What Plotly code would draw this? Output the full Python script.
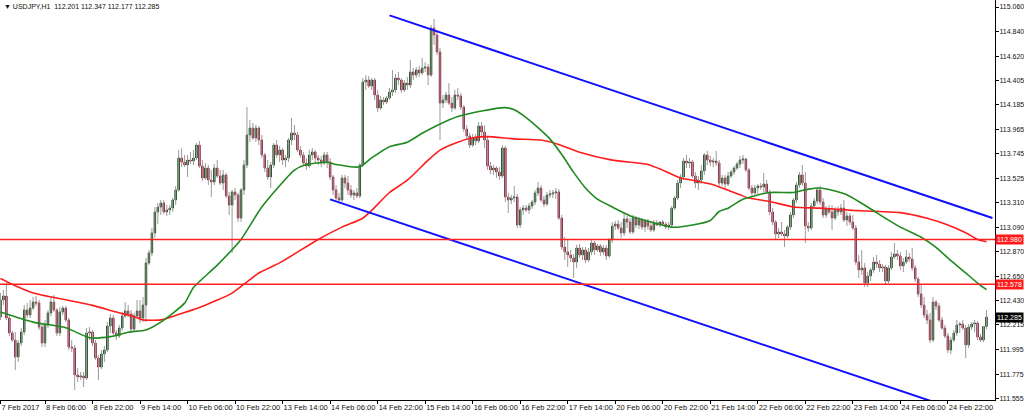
import pandas as pd
import plotly.graph_objects as go

# ---------------- data ----------------
# H1 bar times (weekends skipped); the last two slots are the empty chart shift
_hours = pd.date_range("2017-02-07 15:00", "2017-02-27 13:00", freq="h")
bar_times = [t.strftime("%Y-%m-%d %H:%M") for t in _hours if t.weekday() < 5]

open_ = [
    112.286, 112.438, 112.474, 112.277, 112.143, 112.080, 111.928, 112.053, 112.152, 112.349,
    112.304, 112.366, 112.420, 112.411, 112.196, 112.053, 112.214, 112.322, 112.420, 112.349,
    112.143, 112.331, 112.366, 112.259, 112.017, 112.008, 111.767, 111.749, 111.758, 111.740,
    112.143, 112.152, 112.053, 111.919, 111.838, 111.955, 111.991, 112.205, 112.277, 112.143,
    112.116, 112.187, 112.295, 112.340, 112.313, 112.178, 112.295, 112.340, 112.277, 112.393,
    112.769, 112.859, 113.038, 113.226, 113.270, 113.306, 113.226, 113.244, 113.261, 113.333,
    113.423, 113.709, 113.673, 113.646, 113.691, 113.682, 113.709, 113.825, 113.637, 113.530,
    113.619, 113.512, 113.494, 113.619, 113.548, 113.485, 113.557, 113.369, 113.288, 113.405,
    113.378, 113.172, 113.423, 113.646, 113.915, 113.977, 113.888, 113.977, 113.870, 113.736,
    113.619, 113.539, 113.646, 113.825, 113.736, 113.781, 113.691, 113.709, 113.870, 113.933,
    113.915, 113.781, 113.736, 113.664, 113.637, 113.736, 113.763, 113.709, 113.691, 113.664,
    113.736, 113.673, 113.539, 113.423, 113.351, 113.333, 113.530, 113.485, 113.423, 113.378,
    113.396, 113.369, 113.646, 114.389, 114.407, 114.353, 114.407, 114.273, 114.156, 114.228,
    114.210, 114.246, 114.300, 114.318, 114.425, 114.407, 114.318, 114.380, 114.362, 114.479,
    114.452, 114.497, 114.470, 114.514, 114.523, 114.452, 114.872, 114.810, 114.658, 114.201,
    114.228, 114.273, 114.201, 114.156, 114.273, 114.264, 114.165, 113.968, 113.906, 113.825,
    113.888, 113.861, 113.995, 113.942, 113.870, 113.637, 113.602, 113.619, 113.584, 113.548,
    113.798, 113.360, 113.333, 113.351, 113.360, 113.109, 113.244, 113.261, 113.244, 113.279,
    113.315, 113.396, 113.440, 113.333, 113.297, 113.378, 113.387, 113.396, 113.405, 113.172,
    112.912, 112.868, 112.841, 112.814, 112.778, 112.903, 112.841, 112.886, 112.796, 112.868,
    112.948, 112.886, 112.921, 112.868, 112.903, 112.832, 112.975, 113.100, 113.118, 113.082,
    113.038, 113.163, 113.136, 113.047, 113.172, 113.109, 113.154, 113.091, 113.145, 113.100,
    113.065, 113.127, 113.109, 113.136, 113.118, 113.091, 113.109, 113.261, 113.351, 113.485,
    113.539, 113.682, 113.664, 113.673, 113.548, 113.485, 113.512, 113.593, 113.736, 113.691,
    113.673, 113.682, 113.664, 113.485, 113.530, 113.476, 113.548, 113.584, 113.619, 113.655,
    113.691, 113.700, 113.602, 113.440, 113.396, 113.440, 113.458, 113.449, 113.476, 113.405,
    113.226, 113.136, 113.029, 113.047, 113.029, 113.011, 113.091, 113.199, 113.333, 113.467,
    113.557, 113.485, 113.100, 113.082, 113.279, 113.324, 113.423, 113.315, 113.199, 113.253,
    113.226, 113.172, 113.244, 113.226, 113.261, 113.154, 113.190, 113.136, 113.082, 112.778,
    112.707, 112.725, 112.590, 112.653, 112.707, 112.778, 112.760, 112.725, 112.734, 112.608,
    112.725, 112.823, 112.850, 112.832, 112.743, 112.778, 112.823, 112.805, 112.725, 112.626,
    112.492, 112.393, 112.304, 112.259, 112.080, 112.420, 112.384, 112.259, 112.187, 112.116,
    111.991, 112.080, 112.143, 112.214, 112.223, 112.187, 112.036, 112.196, 112.223, 112.232,
    112.107, 112.080, 112.201,
]

high = [
    112.501, 112.528, 112.590, 112.304, 112.161, 112.152, 112.080, 112.187, 112.393, 112.411,
    112.438, 112.465, 112.474, 112.438, 112.214, 112.259, 112.349, 112.465, 112.483, 112.366,
    112.375, 112.384, 112.384, 112.277, 112.080, 112.035, 111.829, 111.794, 111.794, 112.187,
    112.196, 112.170, 112.080, 111.946, 111.991, 112.026, 112.241, 112.313, 112.304, 112.170,
    112.214, 112.331, 112.420, 112.393, 112.349, 112.322, 112.438, 112.438, 112.465, 112.814,
    112.886, 113.082, 113.270, 113.306, 113.333, 113.333, 113.288, 113.288, 113.351, 113.458,
    113.781, 113.798, 113.736, 113.736, 113.763, 113.781, 113.843, 113.861, 113.691, 113.664,
    113.646, 113.602, 113.655, 113.691, 113.602, 113.602, 113.575, 113.405, 113.423, 113.440,
    113.396, 113.440, 113.691, 114.165, 114.049, 114.022, 114.004, 113.995, 113.915, 113.754,
    113.691, 113.673, 113.843, 113.870, 113.816, 113.798, 113.736, 113.888, 114.067, 114.004,
    113.942, 113.816, 113.763, 113.709, 113.781, 113.798, 113.781, 113.736, 113.727, 113.763,
    113.763, 113.709, 113.557, 113.467, 113.396, 113.557, 113.557, 113.548, 113.467, 113.423,
    113.440, 113.664, 114.425, 114.452, 114.443, 114.425, 114.425, 114.318, 114.264, 114.255,
    114.264, 114.335, 114.497, 114.461, 114.479, 114.425, 114.407, 114.434, 114.586, 114.515,
    114.523, 114.532, 114.604, 114.568, 114.550, 114.899, 114.953, 114.855, 114.693, 114.273,
    114.300, 114.380, 114.255, 114.318, 114.335, 114.291, 114.183, 114.004, 113.933, 113.924,
    113.924, 114.031, 114.031, 114.004, 113.897, 113.673, 113.646, 113.637, 113.628, 113.825,
    113.816, 113.396, 113.378, 113.458, 113.387, 113.270, 113.288, 113.288, 113.306, 113.333,
    113.423, 113.494, 113.467, 113.369, 113.405, 113.423, 113.423, 113.440, 113.431, 113.199,
    113.002, 112.975, 112.886, 112.850, 112.931, 112.939, 112.912, 112.912, 112.903, 112.975,
    112.966, 112.939, 112.939, 112.931, 112.931, 112.993, 113.136, 113.145, 113.154, 113.136,
    113.217, 113.190, 113.172, 113.199, 113.190, 113.181, 113.172, 113.163, 113.163, 113.136,
    113.154, 113.154, 113.145, 113.154, 113.136, 113.136, 113.279, 113.369, 113.512, 113.566,
    113.709, 113.736, 113.709, 113.691, 113.584, 113.548, 113.646, 113.754, 113.772, 113.727,
    113.709, 113.772, 113.691, 113.557, 113.557, 113.584, 113.602, 113.637, 113.673, 113.727,
    113.736, 113.709, 113.619, 113.467, 113.467, 113.476, 113.485, 113.575, 113.512, 113.423,
    113.261, 113.154, 113.082, 113.136, 113.065, 113.109, 113.226, 113.351, 113.494, 113.584,
    113.646, 113.584, 113.136, 113.306, 113.351, 113.449, 113.458, 113.351, 113.279, 113.288,
    113.288, 113.270, 113.279, 113.297, 113.333, 113.226, 113.217, 113.199, 113.109, 112.841,
    112.886, 112.769, 112.689, 112.725, 112.823, 112.841, 112.796, 112.760, 112.752, 112.752,
    112.868, 112.948, 112.886, 112.868, 112.814, 112.886, 112.859, 112.903, 112.752, 112.644,
    112.573, 112.465, 112.349, 112.322, 112.465, 112.438, 112.411, 112.286, 112.214, 112.143,
    112.107, 112.170, 112.259, 112.241, 112.259, 112.214, 112.223, 112.241, 112.259, 112.250,
    112.134, 112.205, 112.347,
]

low = [
    112.259, 112.393, 112.259, 112.116, 112.062, 111.812, 111.883, 112.026, 112.125, 112.277,
    112.277, 112.349, 112.384, 112.170, 112.017, 112.017, 112.187, 112.295, 112.331, 112.116,
    112.116, 112.304, 112.241, 111.991, 111.973, 111.633, 111.704, 111.722, 111.659, 111.722,
    112.080, 112.026, 111.901, 111.722, 111.820, 111.883, 111.973, 112.143, 112.116, 112.080,
    112.098, 112.161, 112.277, 112.286, 112.152, 112.161, 112.277, 112.232, 112.241, 112.241,
    112.752, 112.832, 112.993, 113.118, 113.199, 113.208, 113.190, 113.199, 113.226, 113.288,
    113.405, 113.628, 113.628, 113.539, 113.655, 113.646, 113.691, 113.619, 113.503, 113.512,
    113.467, 113.360, 113.467, 113.530, 113.467, 113.423, 113.351, 113.199, 112.859, 113.333,
    113.136, 113.136, 113.378, 113.619, 113.852, 113.870, 113.852, 113.825, 113.709, 113.584,
    113.512, 113.440, 113.619, 113.709, 113.673, 113.646, 113.628, 113.673, 113.825, 113.870,
    113.763, 113.709, 113.646, 113.602, 113.619, 113.691, 113.664, 113.646, 113.628, 113.646,
    113.619, 113.512, 113.378, 113.315, 113.306, 113.315, 113.440, 113.378, 113.351, 113.333,
    113.351, 113.351, 113.628, 114.318, 114.335, 114.318, 114.228, 114.121, 114.139, 114.183,
    114.192, 114.228, 114.264, 114.291, 114.362, 114.291, 114.300, 114.318, 114.335, 114.407,
    114.425, 114.434, 114.452, 114.479, 114.362, 114.434, 114.721, 114.631, 113.870, 114.156,
    114.201, 114.183, 114.121, 114.139, 114.228, 114.139, 113.942, 113.870, 113.798, 113.807,
    113.825, 113.843, 113.888, 113.798, 113.602, 113.566, 113.557, 113.530, 113.512, 113.530,
    113.315, 113.217, 113.297, 113.315, 113.082, 113.082, 113.199, 113.226, 113.208, 113.253,
    113.288, 113.369, 113.315, 113.270, 113.279, 113.351, 113.351, 113.342, 113.154, 112.886,
    112.796, 112.734, 112.778, 112.635, 112.725, 112.814, 112.796, 112.769, 112.778, 112.841,
    112.841, 112.868, 112.832, 112.841, 112.796, 112.814, 112.948, 113.065, 113.065, 112.993,
    113.011, 113.082, 113.029, 113.029, 113.082, 113.073, 113.065, 113.047, 113.065, 113.047,
    113.047, 113.100, 113.091, 113.100, 113.073, 113.065, 113.082, 113.244, 113.333, 113.440,
    113.512, 113.619, 113.619, 113.530, 113.440, 113.423, 113.476, 113.557, 113.646, 113.637,
    113.628, 113.637, 113.449, 113.458, 113.440, 113.458, 113.530, 113.557, 113.602, 113.619,
    113.655, 113.584, 113.423, 113.369, 113.378, 113.387, 113.423, 113.396, 113.387, 113.199,
    113.109, 112.975, 112.993, 113.011, 112.912, 112.993, 113.065, 113.172, 113.306, 113.440,
    113.458, 112.948, 113.047, 113.065, 113.261, 113.297, 113.288, 113.172, 113.172, 113.208,
    113.065, 113.154, 113.190, 113.199, 113.136, 113.100, 113.109, 113.065, 112.752, 112.635,
    112.662, 112.554, 112.554, 112.608, 112.680, 112.725, 112.689, 112.689, 112.582, 112.590,
    112.707, 112.805, 112.796, 112.707, 112.689, 112.760, 112.778, 112.698, 112.599, 112.465,
    112.366, 112.277, 112.223, 112.053, 112.062, 112.349, 112.241, 112.170, 112.098, 111.964,
    111.955, 112.062, 112.116, 112.143, 112.170, 111.919, 112.008, 112.170, 112.152, 112.080,
    112.062, 112.062, 112.177,
]

close = [
    112.438, 112.474, 112.277, 112.143, 112.080, 111.928, 112.053, 112.152, 112.349, 112.304,
    112.366, 112.420, 112.411, 112.196, 112.053, 112.214, 112.322, 112.420, 112.349, 112.143,
    112.331, 112.366, 112.259, 112.017, 112.008, 111.767, 111.749, 111.758, 111.740, 112.143,
    112.152, 112.053, 111.919, 111.838, 111.955, 111.991, 112.205, 112.277, 112.143, 112.116,
    112.187, 112.295, 112.340, 112.313, 112.178, 112.295, 112.340, 112.277, 112.393, 112.769,
    112.859, 113.038, 113.226, 113.270, 113.306, 113.226, 113.244, 113.261, 113.333, 113.423,
    113.709, 113.673, 113.646, 113.691, 113.682, 113.709, 113.825, 113.637, 113.530, 113.619,
    113.512, 113.494, 113.619, 113.548, 113.485, 113.557, 113.369, 113.288, 113.405, 113.378,
    113.172, 113.423, 113.646, 113.915, 113.977, 113.888, 113.977, 113.870, 113.736, 113.619,
    113.539, 113.646, 113.825, 113.736, 113.781, 113.691, 113.709, 113.870, 113.933, 113.915,
    113.781, 113.736, 113.664, 113.637, 113.736, 113.763, 113.709, 113.691, 113.664, 113.736,
    113.673, 113.539, 113.423, 113.351, 113.333, 113.530, 113.485, 113.423, 113.378, 113.396,
    113.369, 113.646, 114.389, 114.407, 114.353, 114.407, 114.273, 114.156, 114.228, 114.210,
    114.246, 114.300, 114.318, 114.425, 114.407, 114.318, 114.380, 114.362, 114.479, 114.452,
    114.497, 114.470, 114.514, 114.523, 114.452, 114.872, 114.810, 114.658, 114.201, 114.228,
    114.273, 114.201, 114.156, 114.273, 114.264, 114.165, 113.968, 113.906, 113.825, 113.888,
    113.861, 113.995, 113.942, 113.870, 113.637, 113.602, 113.619, 113.584, 113.548, 113.798,
    113.360, 113.333, 113.351, 113.360, 113.109, 113.244, 113.261, 113.244, 113.279, 113.315,
    113.396, 113.440, 113.333, 113.297, 113.378, 113.387, 113.396, 113.405, 113.172, 112.912,
    112.868, 112.841, 112.814, 112.778, 112.903, 112.841, 112.886, 112.796, 112.868, 112.948,
    112.886, 112.921, 112.868, 112.903, 112.832, 112.975, 113.100, 113.118, 113.082, 113.038,
    113.163, 113.136, 113.047, 113.172, 113.109, 113.154, 113.091, 113.145, 113.100, 113.065,
    113.127, 113.109, 113.136, 113.118, 113.091, 113.109, 113.261, 113.351, 113.485, 113.539,
    113.682, 113.664, 113.673, 113.548, 113.485, 113.512, 113.593, 113.736, 113.691, 113.673,
    113.682, 113.664, 113.485, 113.530, 113.476, 113.548, 113.584, 113.619, 113.655, 113.691,
    113.700, 113.602, 113.440, 113.396, 113.440, 113.458, 113.449, 113.476, 113.405, 113.226,
    113.136, 113.029, 113.047, 113.029, 113.011, 113.091, 113.199, 113.333, 113.467, 113.557,
    113.485, 113.100, 113.082, 113.279, 113.324, 113.423, 113.315, 113.199, 113.253, 113.226,
    113.172, 113.244, 113.226, 113.261, 113.154, 113.190, 113.136, 113.082, 112.778, 112.707,
    112.725, 112.590, 112.653, 112.707, 112.778, 112.760, 112.725, 112.734, 112.608, 112.725,
    112.823, 112.850, 112.832, 112.743, 112.778, 112.823, 112.805, 112.725, 112.626, 112.492,
    112.393, 112.304, 112.259, 112.080, 112.420, 112.384, 112.259, 112.187, 112.116, 111.991,
    112.080, 112.143, 112.214, 112.223, 112.187, 112.036, 112.196, 112.223, 112.232, 112.107,
    112.080, 112.201, 112.285,
]

# moving averages (bar index -> value)
ma_fast_bars = [0, 11, 22, 30, 37, 43, 49, 54, 62, 65, 73, 81, 88, 99, 103, 110, 113, 121, 125, 131,
                137, 142, 147, 154, 162, 170, 173, 177, 181, 185, 189, 193, 197, 201, 206, 213, 220,
                226, 233, 239, 242, 245, 250, 259, 267, 272, 276, 280, 285, 292, 298, 303, 310, 315,
                320, 325, 329, 332]
ma_fast_vals = [112.33, 112.24, 112.19, 112.10, 112.11, 112.15, 112.17, 112.24, 112.41, 112.55,
                112.75, 112.98, 113.27, 113.60, 113.65, 113.67, 113.65, 113.63, 113.71, 113.81,
                113.85, 113.93, 114.00, 114.08, 114.13, 114.16, 114.14, 114.07, 113.98, 113.88,
                113.74, 113.58, 113.44, 113.34, 113.27, 113.18, 113.13, 113.09, 113.11, 113.15,
                113.23, 113.26, 113.34, 113.40, 113.40, 113.43, 113.44, 113.42, 113.38, 113.27,
                113.17, 113.09, 113.00, 112.91, 112.79, 112.68, 112.59, 112.53]
ma_slow_bars = [0, 3, 11, 22, 31, 39, 45, 48, 54, 59, 67, 78, 83, 87, 94, 107, 115, 122, 125, 131,
                137, 144, 148, 154, 159, 164, 173, 182, 188, 195, 206, 218, 223, 229, 233, 240, 245,
                249, 252, 259, 267, 276, 287, 296, 303, 312, 319, 325, 329, 332]
ma_slow_vals = [112.63, 112.59, 112.50, 112.44, 112.39, 112.33, 112.29, 112.26, 112.26, 112.30,
                112.37, 112.50, 112.60, 112.68, 112.77, 112.98, 113.09, 113.17, 113.24, 113.40,
                113.51, 113.69, 113.78, 113.85, 113.89, 113.90, 113.88, 113.87, 113.83, 113.76,
                113.69, 113.65, 113.60, 113.53, 113.51, 113.47, 113.42, 113.38, 113.35, 113.32,
                113.27, 113.26, 113.24, 113.23, 113.22, 113.17, 113.11, 113.04, 112.98, 112.96]

# channel trendlines (time, price) anchors
channel_upper_t = ["2017-02-15 02:00", "2017-02-27 13:00"]
channel_upper_p = [114.985, 113.172]
channel_lower_t = ["2017-02-14 06:00", "2017-02-24 19:00"]
channel_lower_p = [113.339, 111.510]

# horizontal levels
level_prices = [112.980, 112.578]
current_price = 112.285

# axis ticks
x_tick_times = ["2017-02-07 15:00", "2017-02-08 06:00", "2017-02-08 22:00", "2017-02-09 14:00",
                "2017-02-10 06:00", "2017-02-10 22:00", "2017-02-13 14:00", "2017-02-14 06:00",
                "2017-02-14 22:00", "2017-02-15 14:00", "2017-02-16 06:00", "2017-02-16 22:00",
                "2017-02-17 14:00", "2017-02-20 06:00", "2017-02-20 22:00", "2017-02-21 14:00",
                "2017-02-22 06:00", "2017-02-22 22:00", "2017-02-23 14:00", "2017-02-24 06:00",
                "2017-02-24 22:00"]
x_tick_text = ["7 Feb 2017", "8 Feb 06:00", "8 Feb 22:00", "9 Feb 14:00", "10 Feb 06:00",
               "10 Feb 22:00", "13 Feb 14:00", "14 Feb 06:00", "14 Feb 22:00", "15 Feb 14:00",
               "16 Feb 06:00", "16 Feb 22:00", "17 Feb 14:00", "20 Feb 06:00", "20 Feb 22:00",
               "21 Feb 14:00", "22 Feb 06:00", "22 Feb 22:00", "23 Feb 14:00", "24 Feb 06:00",
               "24 Feb 22:00"]
y_tick_vals = [111.555, 111.775, 111.995, 112.215, 112.430, 112.650, 112.870, 113.090, 113.310,
               113.525, 113.745, 113.965, 114.185, 114.405, 114.620, 114.840, 115.060]

title_text = "▼ USDJPY,H1  112.201 112.347 112.177 112.285"

# ---------------- figure ----------------
FONT = "Liberation Sans, Arial, sans-serif"
WICK = "#9a9a9a"
BULL = "#0f420f"
BEAR = "#94122f"

n = len(close)
xs = bar_times[:n]
body_hi = [max(o, c) for o, c in zip(open_, close)]
body_lo = [min(o, c) for o, c in zip(open_, close)]

fig = go.Figure()

# wicks
fig.add_trace(go.Ohlc(
    x=xs, open=open_, high=high, low=low, close=close,
    tickwidth=0,
    increasing=dict(line=dict(color=WICK, width=1)),
    decreasing=dict(line=dict(color=WICK, width=1)),
    hoverinfo="skip", showlegend=False,
))
# bodies
fig.add_trace(go.Candlestick(
    x=xs, open=open_, high=body_hi, low=body_lo, close=close,
    whiskerwidth=0,
    increasing=dict(line=dict(color=BULL, width=1), fillcolor=BULL),
    decreasing=dict(line=dict(color=BEAR, width=1), fillcolor=BEAR),
    showlegend=False,
))

# moving averages
fig.add_trace(go.Scatter(
    x=[bar_times[i] for i in ma_slow_bars], y=ma_slow_vals, mode="lines",
    line=dict(color="#ff1c1c", width=1.6, shape="spline", smoothing=0.6),
    showlegend=False, hoverinfo="skip"))
fig.add_trace(go.Scatter(
    x=[bar_times[i] for i in ma_fast_bars], y=ma_fast_vals, mode="lines",
    line=dict(color="#1f8a1f", width=1.6, shape="spline", smoothing=0.6),
    showlegend=False, hoverinfo="skip"))

# channel lines
for tt, pp in ((channel_upper_t, channel_upper_p), (channel_lower_t, channel_lower_p)):
    fig.add_trace(go.Scatter(x=tt, y=pp, mode="lines",
                             line=dict(color="#1010ff", width=2),
                             showlegend=False, hoverinfo="skip"))

shapes = []
annotations = []
for lv in level_prices:
    shapes.append(dict(type="line", xref="paper", x0=0, x1=1, yref="y", y0=lv, y1=lv,
                       line=dict(color="#ff2020", width=1.5), layer="above"))
    annotations.append(dict(x=1, xref="paper", xanchor="left", xshift=0, y=lv, yref="y",
                            yanchor="middle", text=f"{lv:.3f}", showarrow=False,
                            bgcolor="#ff1a1a", borderpad=1,
                            font=dict(family=FONT, size=7, color="white")))
annotations.append(dict(x=1, xref="paper", xanchor="left", xshift=0, y=current_price, yref="y",
                        yanchor="middle", text=f"{current_price:.3f}", showarrow=False,
                        bgcolor="#000000", borderpad=1,
                        font=dict(family=FONT, size=7, color="white")))
annotations.append(dict(x=0, xref="paper", xanchor="left", xshift=2, y=1, yref="paper",
                        yanchor="top", yshift=-1, text=title_text, showarrow=False,
                        font=dict(family=FONT, size=7, color="#111111")))

fig.update_layout(
    width=1024, height=414,
    margin=dict(l=0, r=29, t=0, b=14),
    paper_bgcolor="white", plot_bgcolor="white",
    showlegend=False,
    shapes=shapes, annotations=annotations,
    font=dict(family=FONT, size=7.5, color="#111111"),
    xaxis=dict(
        type="category", categoryorder="array", categoryarray=bar_times,
        range=[-0.15, 334.87], rangeslider=dict(visible=False),
        showgrid=False, zeroline=False, showline=True, linecolor="#000000", linewidth=1,
        ticks="outside", ticklen=3, tickcolor="#000000", tickwidth=1,
        tickvals=x_tick_times, ticktext=x_tick_text, tickangle=0,
        ticklabelposition="outside right",
        tickfont=dict(family=FONT, size=7.5, color="#111111"),
        automargin=False, fixedrange=True,
    ),
    yaxis=dict(
        side="right", range=[111.543, 115.123],
        showgrid=False, zeroline=False, showline=True, linecolor="#000000", linewidth=1,
        ticks="outside", ticklen=3, tickcolor="#000000", tickwidth=1,
        tickvals=y_tick_vals, tickformat=".3f", ticklabelstandoff=-1,
        tickfont=dict(family=FONT, size=7, color="#111111"),
        automargin=False, fixedrange=True,
    ),
)

fig.write_html(
    "out.html",
    config={"displayModeBar": False, "staticPlot": True},
    post_script="document.body.style.margin='0';document.body.style.overflow='hidden';",
)
